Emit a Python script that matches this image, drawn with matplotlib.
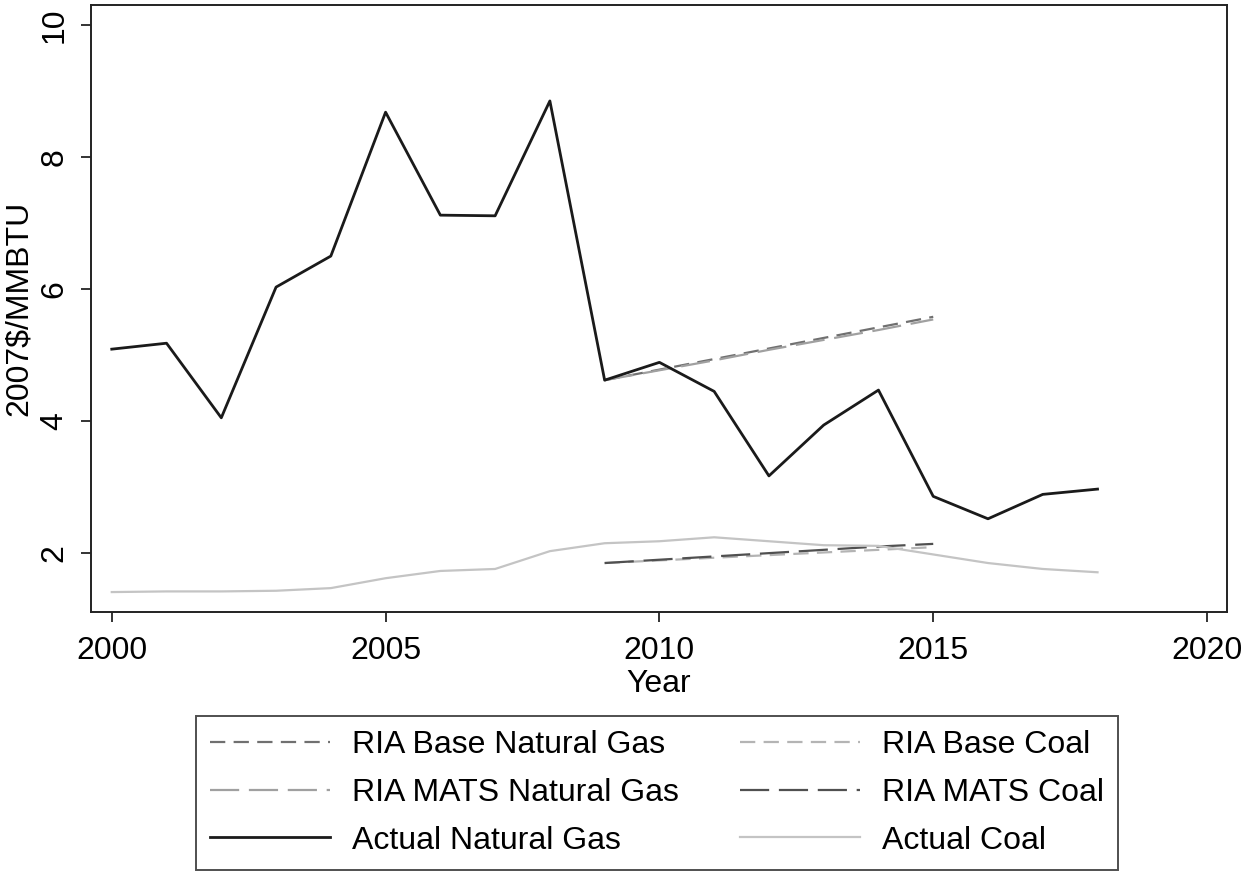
import matplotlib
matplotlib.use("Agg")
import matplotlib.pyplot as plt

plt.rcParams['font.family'] = ['Liberation Sans', 'DejaVu Sans']
plt.rcParams['lines.scale_dashes'] = False

# data
years = list(range(2000, 2019))
actual_gas = [5.09, 5.18, 4.05, 6.03, 6.50, 8.68, 7.12, 7.11, 8.85, 4.62,
              4.89, 4.45, 3.17, 3.94, 4.47, 2.86, 2.52, 2.89, 2.97]
actual_coal = [1.41, 1.42, 1.42, 1.43, 1.47, 1.62, 1.73, 1.76, 2.03, 2.15,
               2.18, 2.24, 2.18, 2.12, 2.11, 1.98, 1.85, 1.76, 1.71]

ria_years = list(range(2009, 2016))
ria_base_gas = [4.62, 4.78, 4.94, 5.10, 5.26, 5.42, 5.58]
ria_mats_gas = [4.62, 4.77, 4.92, 5.08, 5.23, 5.38, 5.54]
ria_base_coal = [1.85, 1.89, 1.93, 1.97, 2.01, 2.05, 2.09]
ria_mats_coal = [1.85, 1.90, 1.95, 2.00, 2.05, 2.10, 2.14]

fig = plt.figure(figsize=(12.46, 8.72), dpi=100)
ax = fig.add_axes([0.073, 0.298, 0.912, 0.696])

short = (0, (11, 6))
long_ = (0, (21, 7))

ax.plot(ria_years, ria_base_gas, color='#707070', lw=1.6, linestyle=short,
        label='RIA Base Natural Gas')
ax.plot(ria_years, ria_mats_gas, color='#a0a0a0', lw=1.6, linestyle=long_,
        label='RIA MATS Natural Gas')
ax.plot(years, actual_gas, color='#1a1a1a', lw=2.0, label='Actual Natural Gas')
ax.plot(ria_years, ria_base_coal, color='#b4b4b4', lw=1.6, linestyle=short,
        label='RIA Base Coal')
ax.plot(ria_years, ria_mats_coal, color='#505050', lw=1.6, linestyle=long_,
        label='RIA MATS Coal')
ax.plot(years, actual_coal, color='#c4c4c4', lw=1.6, label='Actual Coal')

ax.set_xlim(1999.62, 2020.37)
ax.set_ylim(1.106, 10.30)
ax.set_xticks([2000, 2005, 2010, 2015, 2020])
ax.set_yticks([2, 4, 6, 8, 10])
ax.tick_params(axis='both', direction='out', length=7, width=1.4, labelsize=23,
               color='#333333')
ax.tick_params(axis='x', pad=10.5)
ax.tick_params(axis='y', pad=8.5)
for lab in ax.get_yticklabels():
    lab.set_rotation(90)
    lab.set_va('center')
for s in ax.spines.values():
    s.set_linewidth(1.4)
    s.set_color('#222222')

ax.set_xlabel('Year', fontsize=23, labelpad=2)
ax.set_ylabel('2007$/MMBTU', fontsize=23, va='center')
ax.yaxis.set_label_coords(-0.0634, 0.5)

handles, labels = ax.get_legend_handles_labels()
leg = fig.legend(handles, labels, ncol=2, loc='center',
                 bbox_to_anchor=(657 / 1246, 1 - 793 / 872),
                 fontsize=23, frameon=True, fancybox=False, edgecolor='#222222',
                 handlelength=3.75, handletextpad=0.7, columnspacing=1.9,
                 labelspacing=0.55, borderpad=0.45)
leg.get_frame().set_linewidth(1.4)

fig.savefig('out.png', dpi=100)
